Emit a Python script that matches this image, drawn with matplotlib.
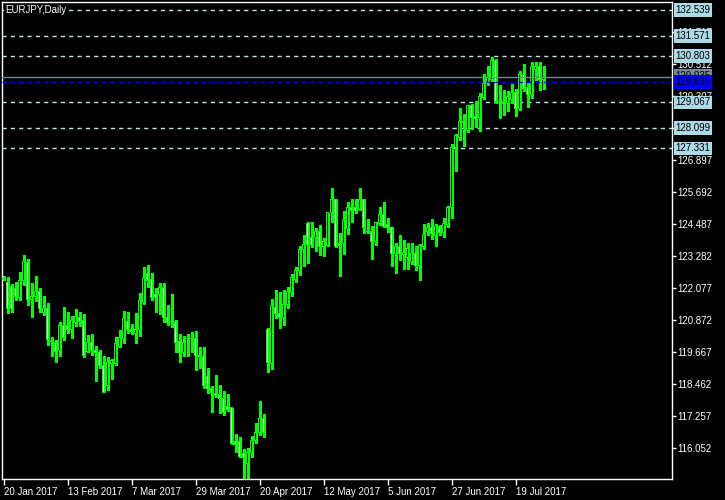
import numpy as np
import matplotlib
matplotlib.use("Agg")
import matplotlib.pyplot as plt

# EURJPY daily candles, 20 Jan 2017 .. 27 Jul 2017
opens = [122.45, 122.30, 122.15, 122.04, 121.70, 122.34, 123.02, 121.66, 121.74, 121.93,
         121.17, 121.32, 120.08, 120.01, 119.74, 120.65, 120.68, 120.50, 120.76, 120.98,
         120.87, 119.70, 120.01, 119.74, 119.63, 119.14, 118.42, 119.25, 119.25, 119.89,
         120.19, 120.83, 120.53, 120.38, 120.53, 121.55, 122.64, 122.38, 121.85, 121.85,
         122.08, 120.98, 120.80, 120.80, 120.08, 119.63, 120.19, 120.16, 120.16, 119.55,
         119.48, 118.76, 118.31, 118.12, 118.05, 117.90, 117.60, 117.56, 116.28, 116.28,
         115.83, 115.45, 115.90, 116.32, 116.62, 117.18, 120.53, 119.25, 121.36, 121.10,
         120.98, 121.44, 121.89, 122.38, 122.72, 123.54, 124.49, 123.96, 123.96, 124.22,
         123.62, 123.66, 124.90, 125.39, 123.77, 123.77, 124.30, 125.09, 125.09, 125.05,
         125.39, 124.22, 124.22, 123.84, 124.52, 124.86, 124.45, 124.34, 123.39, 123.62,
         123.32, 123.21, 123.09, 123.39, 122.91, 123.62, 124.22, 124.34, 124.07, 124.41,
         124.15, 124.45, 125.09, 127.38, 127.76, 128.36, 127.99, 128.93, 128.55, 128.51,
         129.23, 129.79, 129.94, 130.66, 129.08, 129.08, 129.04, 129.19, 129.45, 128.85,
         130.13, 129.61, 129.38, 130.32, 130.43, 129.94]
highs = [122.53, 122.49, 122.23, 122.30, 122.68, 123.32, 123.17, 122.26, 122.53, 122.08,
         121.78, 121.51, 120.23, 120.12, 120.80, 121.36, 121.17, 121.02, 121.29, 121.17,
         121.10, 120.31, 120.34, 119.89, 119.74, 119.52, 119.48, 119.40, 120.23, 120.50,
         121.21, 121.17, 120.72, 121.13, 121.89, 122.87, 122.93, 122.64, 122.08, 122.26,
         122.26, 121.44, 121.85, 120.87, 120.34, 120.27, 120.34, 120.42, 120.46, 119.86,
         119.86, 119.06, 118.39, 118.80, 118.42, 118.20, 118.09, 117.56, 116.58, 116.47,
         116.01, 116.05, 116.50, 116.99, 117.82, 117.33, 120.57, 121.66, 122.00, 121.93,
         122.00, 122.11, 122.60, 122.87, 123.66, 124.07, 124.56, 124.56, 124.34, 124.45,
         123.96, 124.90, 125.84, 125.43, 124.15, 124.98, 125.32, 125.43, 125.43, 125.84,
         125.43, 124.67, 124.41, 124.56, 125.13, 125.31, 124.71, 124.37, 123.77, 124.07,
         123.88, 123.77, 123.77, 123.66, 123.73, 124.49, 124.52, 124.67, 124.49, 124.45,
         124.71, 125.16, 127.50, 127.87, 128.85, 128.63, 128.97, 129.00, 129.12, 129.42,
         130.13, 130.43, 130.77, 130.70, 129.72, 129.53, 129.49, 129.76, 129.57, 130.25,
         130.51, 129.79, 130.58, 130.58, 130.58, 130.43]
lows = [122.38, 121.13, 121.17, 121.62, 121.62, 122.19, 121.44, 120.98, 121.59, 121.17,
        121.06, 119.93, 119.52, 119.29, 119.52, 120.12, 120.38, 120.19, 120.65, 120.65,
        119.48, 119.67, 119.55, 118.57, 119.06, 118.16, 118.24, 118.65, 119.18, 119.86,
        120.01, 120.38, 120.34, 120.01, 120.27, 121.47, 122.11, 121.62, 121.17, 121.10,
        120.80, 120.68, 120.61, 119.67, 119.29, 119.52, 119.52, 119.67, 118.99, 119.06,
        118.31, 118.12, 117.41, 117.97, 117.37, 117.30, 117.45, 116.20, 115.90, 115.71,
        114.85, 114.85, 115.71, 116.24, 116.54, 116.47, 118.91, 119.03, 120.95, 120.57,
        120.68, 121.32, 121.78, 122.30, 122.57, 122.91, 123.02, 123.62, 123.47, 123.32,
        123.28, 123.66, 124.56, 123.62, 122.53, 123.36, 124.11, 124.56, 124.90, 125.01,
        124.15, 124.15, 123.17, 123.70, 124.45, 124.37, 124.18, 122.91, 122.64, 123.13,
        122.79, 122.79, 122.98, 122.75, 122.38, 123.54, 124.07, 123.92, 123.66, 124.07,
        124.00, 124.37, 124.71, 126.48, 127.65, 127.42, 127.95, 128.06, 128.14, 127.99,
        129.19, 129.72, 129.87, 129.04, 128.48, 128.59, 128.74, 129.04, 128.55, 128.78,
        129.49, 128.89, 129.23, 129.91, 129.53, 129.57]
closes = [122.41, 121.32, 121.29, 121.74, 122.34, 123.09, 121.66, 121.74, 121.96, 121.32,
          121.32, 120.12, 120.08, 119.70, 120.68, 120.23, 120.50, 120.87, 121.02, 120.83,
          119.55, 120.01, 119.74, 119.63, 119.14, 118.16, 119.29, 119.33, 119.97, 120.23,
          120.91, 120.53, 120.42, 120.53, 121.59, 122.45, 122.34, 121.70, 121.70, 122.08,
          120.98, 120.76, 120.80, 120.04, 119.63, 120.01, 120.16, 120.19, 119.55, 119.48,
          118.39, 118.31, 118.16, 118.01, 117.90, 117.37, 117.52, 116.24, 116.20, 115.75,
          115.68, 115.90, 116.35, 116.62, 117.18, 116.62, 119.29, 121.40, 121.10, 120.95,
          121.44, 121.93, 122.49, 122.72, 123.54, 123.70, 123.73, 123.70, 124.22, 123.62,
          123.81, 124.90, 125.39, 123.62, 123.66, 124.60, 125.09, 124.98, 124.98, 125.39,
          124.34, 124.22, 123.84, 124.56, 124.86, 124.41, 124.34, 123.39, 123.62, 123.39,
          123.43, 123.58, 123.39, 122.91, 123.66, 124.07, 124.34, 124.11, 124.41, 124.15,
          124.49, 125.09, 127.38, 127.80, 128.33, 128.29, 128.93, 128.51, 128.44, 129.30,
          129.79, 130.02, 130.66, 129.08, 129.08, 129.04, 129.30, 129.45, 128.82, 130.13,
          129.57, 129.38, 130.40, 130.43, 129.94, 130.02]

date_labels = ['20 Jan 2017', '13 Feb 2017', '7 Mar 2017', '29 Mar 2017', '20 Apr 2017',
               '12 May 2017', '5 Jun 2017', '27 Jun 2017', '19 Jul 2017']
date_bars = [0, 16, 32, 48, 64, 80, 96, 112, 128]

price_ticks = [116.052, 117.257, 118.462, 119.667, 120.872, 122.077, 123.282, 124.487,
               125.692, 126.897, 128.102, 129.307, 130.512, 131.717]
levels = [132.539, 131.571, 130.803, 129.067, 128.099, 127.331]
ask_price = 129.835
bid_label = '129.935'

plt.rcParams['font.family'] = 'Liberation Sans'

o = np.array(opens)
h = np.array(highs)
l = np.array(lows)
c = np.array(closes)
x = np.arange(len(o))

green = '#00ff00'
fig = plt.figure(figsize=(7.25, 5), dpi=100, facecolor='black')
ax = fig.add_axes([2 / 725, 21 / 500, 670 / 725, 477 / 500], facecolor='black')
ax.set_xlim(-0.375, 167.125)
ax.set_ylim(114.885, 132.844)
px = (132.844 - 114.885) / 477  # price per pixel

# horizontal levels
for lv in levels:
    ax.axhline(lv, color='#c4e4ec', lw=1, ls=(0, (3, 3)), zorder=1)
    ax.text(1.005, lv, f'{lv:.3f}', transform=ax.get_yaxis_transform(), va='center', ha='left',
            fontsize=7, color='black', clip_on=False, zorder=6,
            bbox=dict(boxstyle='square,pad=0.18', fc='#add8e6', ec='none'))

# candles: wick, green outline (3px), inner fill (1px)
ax.vlines(x, l, h, colors=green, lw=1, zorder=2, antialiased=False)
lo_b = np.minimum(o, c)
hi_b = np.maximum(o, c)
ax.bar(x, hi_b - lo_b + px, bottom=lo_b - px / 2, width=0.75, color=green, lw=0,
       zorder=3, antialiased=False)
inner = (hi_b - lo_b) > 1.5 * px
fills = np.where(c < o, 'white', 'black')
ax.bar(x[inner], (hi_b - lo_b - px)[inner], bottom=(lo_b + px / 2)[inner], width=0.25,
       color=fills[inner], lw=0, zorder=4, antialiased=False)

# bid / ask lines
ax.axhline(c[-1], color='#778899', lw=1, zorder=5)
ax.axhline(ask_price, color='#0000ff', lw=1, ls=(0, (3, 3)), zorder=5)
ax.text(1.005, c[-1] + 0.03, bid_label, transform=ax.get_yaxis_transform(), va='center',
        ha='left', fontsize=7, color='black', clip_on=False, zorder=6,
        bbox=dict(boxstyle='square,pad=0.18', fc='#778899', ec='none'))
ax.text(1.005, ask_price, f'{ask_price:.3f}', transform=ax.get_yaxis_transform(), va='center',
        ha='left', fontsize=7, color='black', clip_on=False, zorder=7,
        bbox=dict(boxstyle='square,pad=0.18', fc='#0000ff', ec='none'))

ax.text(3 / 670, 132.539, 'EURJPY,Daily', transform=ax.get_yaxis_transform(), va='center',
        ha='left', fontsize=7, color='white', zorder=6,
        bbox=dict(boxstyle='square,pad=0.1', fc='black', ec='none'))

ax.yaxis.tick_right()
# the 128.102 label sits fully under the 128.099 level box
ytick_text = ['' if v == 128.102 else f'{v:.3f}' for v in price_ticks]
ax.set_yticks(price_ticks, labels=ytick_text)
ax.set_xticks(date_bars, labels=date_labels)
for lab in ax.get_xticklabels():
    lab.set_horizontalalignment('left')
ax.tick_params(axis='y', colors='white', labelsize=7, length=3, width=1, pad=1)
ax.tick_params(axis='x', colors='white', labelsize=7, length=4, width=1, pad=2)
for s in ax.spines.values():
    s.set_color('white')
    s.set_linewidth(1)

fig.savefig('out.png', dpi=100, facecolor='black')
